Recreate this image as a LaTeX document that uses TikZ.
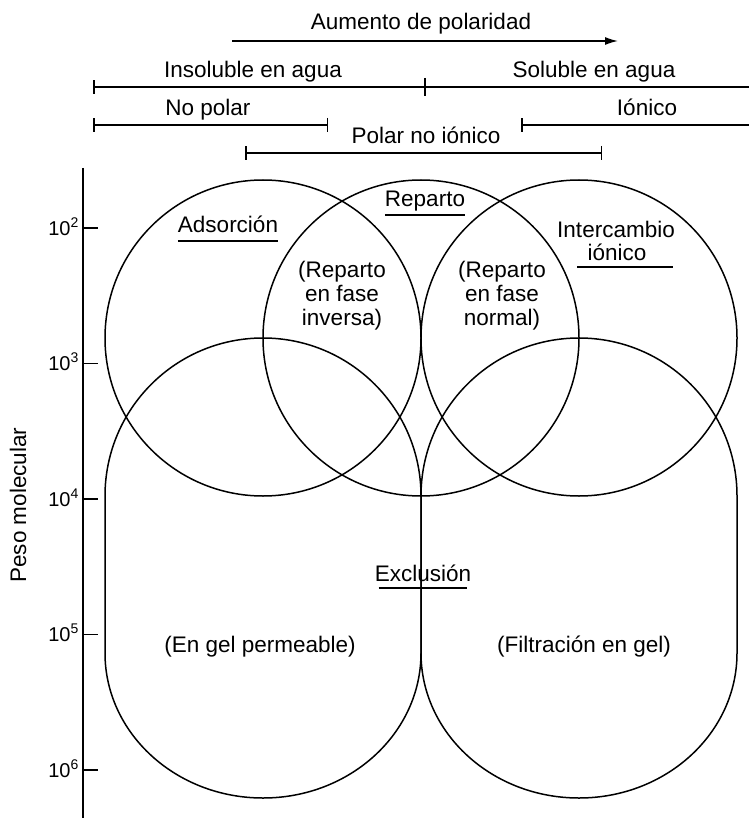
\documentclass[tikz,border=0pt]{standalone}
\usepackage{fontspec}
\setmainfont{Liberation Sans}
\usetikzlibrary{arrows.meta}

\begin{document}
\begin{tikzpicture}[x=1pt,y=1pt]
    \tikzstyle{txt}=[font=\fontsize{22.5}{24}\selectfont, inner sep=0pt, align=center]
    \tikzstyle{zone}=[circle, draw, line width=1.5pt, minimum size=316pt, inner sep=0pt]
    \tikzstyle{barline}=[line width=1.5pt, {Bar[width=14pt]}-{Bar[width=14pt]}]
    \tikzstyle{uline}=[line width=1.5pt]
    \useasboundingbox (0,0) rectangle (749,-818);

    % polarity scale
    \node[txt,anchor=base] (aum) at (421,-30) {Aumento de polaridad};
    \coordinate (aum-a) at (232,-41);
    \coordinate (aum-b) at (618,-41);
    \draw[line width=1.5pt,-{Latex[length=13pt,width=8pt]}] (aum-a) -- (aum-b);

    \node[txt,anchor=base] (insol) at (253,-78) {Insoluble en agua};
    \node[txt,anchor=base] (sol) at (594,-78) {Soluble en agua};
    \coordinate (agua-a) at (93,-87);
    \coordinate (agua-m) at (425,-87);
    \coordinate (agua-b) at (749,-87);
    \draw[line width=1.5pt,{Bar[width=14pt]}-] (agua-a) -- (agua-b);
    \draw[line width=1.5pt] ([yshift=9pt]agua-m) -- ([yshift=-9pt]agua-m);

    \node[txt,anchor=base] (nopol) at (208,-116) {No polar};
    \coordinate (nopol-a) at (93,-125);
    \coordinate (nopol-b) at (328,-125);
    \draw[barline] (nopol-a) -- (nopol-b);

    \node[txt,anchor=base] (ion) at (647,-116) {Iónico};
    \coordinate (ion-a) at (521,-125);
    \coordinate (ion-b) at (749,-125);
    \draw[line width=1.5pt,{Bar[width=14pt]}-] (ion-a) -- (ion-b);

    \node[txt,anchor=base] (pol) at (426,-144) {Polar no iónico};
    \coordinate (pol-a) at (245,-153);
    \coordinate (pol-b) at (602,-153);
    \draw[barline] (pol-a) -- (pol-b);

    % molecular weight axis
    \coordinate (ax-top) at (83,-168);
    \coordinate (ax-bot) at (83,-818);
    \draw[line width=1.8pt] (ax-top) -- (ax-bot);
    \foreach \e/\y in {2/228,3/363.5,4/499,5/634.5,6/770} {
        \draw[line width=1.8pt] (83,-\y) -- (98,-\y);
        \node[txt,anchor=base east,font=\fontsize{20}{24}\selectfont] (t\e) at (79,-\y-7) {10\textsuperscript{\e}};
    }
    \node[txt,rotate=90] (pm) at (18,-505) {Peso molecular};

    % methods
    \node[zone] (ads) at (263,-338) {};
    \node[zone] (rep) at (421,-338) {};
    \node[zone] (int) at (579,-338) {};
    \draw[line width=1.5pt] (105,-496) -- (105,-653)
        arc[start angle=180,end angle=360,x radius=158,y radius=145]
        -- (421,-496) arc[start angle=0,end angle=180,radius=158] -- cycle;
    \draw[line width=1.5pt] (421,-496) -- (421,-653)
        arc[start angle=180,end angle=360,x radius=158,y radius=145]
        -- (737,-496) arc[start angle=0,end angle=180,radius=158] -- cycle;

    \node[txt,anchor=base] (ads-l) at (228,-233) {Adsorción};
    \draw[uline] ([yshift=-8pt]ads-l.base west) -- ([yshift=-8pt]ads-l.base east);
    \node[txt,anchor=base] (rep-l) at (425,-207) {Reparto};
    \draw[uline] ([yshift=-8pt]rep-l.base west) -- ([yshift=-8pt]rep-l.base east);
    \node[txt] (inv) at (342,-296) {(Reparto\\en fase\\inversa)};
    \node[txt] (nor) at (502,-296) {(Reparto\\en fase\\normal)};
    \node[txt,anchor=base] (int-a) at (616,-237) {Intercambio};
    \node[txt,anchor=base] (int-b) at (617,-260) {iónico};
    \draw[uline] ([xshift=-10pt,yshift=-7pt]int-b.base west) -- ([xshift=26pt,yshift=-7pt]int-b.base east);
    \node[txt,anchor=base] (exc) at (423,-581) {Exclusión};
    \draw[uline] ([xshift=4pt,yshift=-7pt]exc.base west) -- ([xshift=-4pt,yshift=-7pt]exc.base east);
    \node[txt,anchor=base] (perm) at (260,-652) {(En gel permeable)};
    \node[txt,anchor=base] (filt) at (584,-652) {(Filtración en gel)};
\end{tikzpicture}
\end{document}
